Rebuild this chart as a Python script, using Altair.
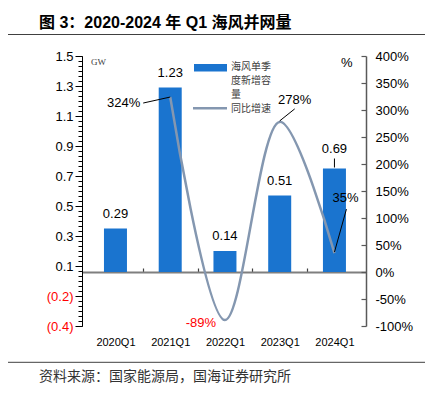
import altair as alt
import pandas as pd

# ---- data ----
quarters = ["2020Q1", "2021Q1", "2022Q1", "2023Q1", "2024Q1"]
capacity_gw = [0.29, 1.23, 0.14, 0.51, 0.69]
yoy_pct = [None, 324, -89, 278, 35]
left_tick_labels = ["(0.4)", "(0.2)", "0.1", "0.3", "0.5", "0.7", "0.9", "1.1", "1.3", "1.5"]
right_tick_values = [-100, -50, 0, 50, 100, 150, 200, 250, 300, 350, 400]
legend_bar_lines = ["海风单季", "度新增容", "量"]
legend_line_text = "同比增速"
title_text = "图 3：2020-2024 年 Q1 海风并网量"
source_text = "资料来源：国家能源局，国海证券研究所"

df = pd.DataFrame({"idx": list(range(len(quarters))), "quarter": quarters,
                   "gw": capacity_gw, "pct": yoy_pct})

BLUE = "#1a74cf"
LINE = "#8497b0"
LAT = "Liberation Sans"
CJK = "Noto Sans CJK SC"
W, H = 284, 270

L_MIN, L_MAX = -0.36, 1.44
major_vals = [round(L_MIN + 0.2 * k, 4) for k in range(len(left_tick_labels))]
minor_vals = [round(L_MIN + 0.2 / 6 * j, 5) for j in range(6 * (len(left_tick_labels) - 1) + 1)]
lab_arr = "[" + ",".join("'%s'" % s for s in left_tick_labels) + "]"
q_arr = "[" + ",".join("'%s'" % s for s in quarters) + "]"

xs = alt.Scale(domain=[-0.52, 4.485], nice=False, zero=False)
ls = alt.Scale(domain=[L_MIN, L_MAX], nice=False, zero=False)
rs = alt.Scale(domain=[-100, 400], nice=False, zero=False)


def X(axis=None):
    return alt.X("idx:Q", scale=xs, axis=axis)


def YL(axis=None):
    return alt.Y("gw:Q", scale=ls, axis=axis)


def YR(axis=None):
    return alt.Y("pct:Q", scale=rs, axis=axis)


base = alt.Chart(df)
valid = base.transform_filter("isValid(datum.pct)")

bars = base.mark_bar(width=23, color=BLUE).encode(
    x=X(alt.Axis(orient="bottom", values=[0, 1, 2, 3, 4],
                 labelExpr=q_arr + "[round(datum.value)]",
                 ticks=False, domain=False, labelFont=LAT, labelFontSize=11,
                 labelColor="#000", labelPadding=10, grid=False, title=None)),
    y=YL(alt.Axis(orient="left", values=major_vals,
                  labelExpr=lab_arr + "[round((datum.value - (%s)) / 0.2)]" % L_MIN,
                  labelColor={"condition": {"test": "datum.value < 0", "value": "#ff0000"},
                              "value": "#000"},
                  labelFont=LAT, labelFontSize=13, labelPadding=2,
                  tickSize=7, tickColor="#000", domainColor="#000",
                  grid=False, title=None)),
)

minor_axis = base.mark_point(opacity=0).encode(
    x=X(),
    y=YL(alt.Axis(orient="left", values=minor_vals, tickSize=4, labels=False,
                  domain=False, tickColor="#000", grid=False, title=None)),
)

zero_axis = base.mark_point(opacity=0).encode(
    x=X(alt.Axis(orient="top", offset=-H * (L_MAX / (L_MAX - L_MIN)),
                 values=[0.5, 1.5, 2.5, 3.5], tickSize=4, labels=False,
                 domainColor="#7f7f7f", domainWidth=2, tickColor="#404040",
                 tickWidth=1.2, grid=False, title=None)),
    y=YL(),
)

line = valid.mark_line(color=LINE, strokeWidth=2.5, interpolate="catmull-rom").encode(
    x=X(),
    y=YR(alt.Axis(orient="right", values=right_tick_values,
                  labelExpr="datum.value + '%'", ticks=False, domain=False,
                  labelPadding=9, labelFont=LAT, labelFontSize=13,
                  labelColor="#000", grid=False, title=None)),
)

right_ticks = valid.mark_point(opacity=0).encode(
    x=X(),
    y=YR(alt.Axis(orient="left", offset=-W, values=right_tick_values, tickSize=5,
                  labels=False, domainColor="#595959", tickColor="#595959",
                  domainWidth=1.5, tickWidth=1.2, grid=False, title=None)),
)


def pct_label(q, dx, dy, align="center", color="#000"):
    return (valid.transform_filter("datum.quarter == '%s'" % q)
            .transform_calculate(lab="toString(datum.pct) + '%'")
            .mark_text(dx=dx, dy=dy, align=align, baseline="middle", font=LAT,
                       fontSize=13, color=color)
            .encode(x=X(), y=YR(), text="lab:N"))


def pct_leader(q, x1, y1, x2, y2):
    return (valid.transform_filter("datum.quarter == '%s'" % q)
            .mark_rule(color="#000", strokeWidth=1, xOffset=x1, yOffset=y1,
                       x2Offset=x2, y2Offset=y2)
            .encode(x=X(), x2="idx:Q", y=YR(), y2="pct:Q"))


line_labels = [
    pct_leader("2021Q1", 0, 0, -27, 6), pct_label("2021Q1", -30, 6, "right"),
    pct_label("2022Q1", -24, 3, "center", "#ff0000"),
    pct_leader("2023Q1", 0, -1, 15, -13), pct_label("2023Q1", 15, -22),
    pct_leader("2024Q1", 0, -1, 12, -44), pct_label("2024Q1", 11, -55),
]

bar_labels = base.transform_filter("datum.quarter != '2024Q1'").mark_text(
    dy=-15, baseline="middle", font=LAT, fontSize=13, color="#000"
).encode(x=X(), y=YL(), text=alt.Text("gw:Q", format=".2f"))

bar_label_last = base.transform_filter("datum.quarter == '2024Q1'").mark_text(
    dy=-20, baseline="middle", font=LAT, fontSize=13, color="#000"
).encode(x=X(), y=YL(), text=alt.Text("gw:Q", format=".2f"))

bar_leader_last = base.transform_filter("datum.quarter == '2024Q1'").mark_rule(
    color="#000", strokeWidth=1, yOffset=-1, y2Offset=-10
).encode(x=X(), y=YL(), y2="gw:Q")

# ---- decorations (title, rules, legend, units, source) ----
one = alt.Chart(pd.DataFrame({"a": [0]}))
deco = [
    one.mark_text(text=title_text, align="left", baseline="middle",
                  font=LAT + ", " + CJK, fontSize=16, fontWeight="bold", color="#000"
                  ).encode(x=alt.value(-43), y=alt.value(-33.5)),
    one.mark_rule(color="#404040", strokeWidth=1).encode(
        x=alt.value(-90), x2=alt.value(360), y=alt.value(-21.5)),
    one.mark_rule(color="#404040", strokeWidth=1).encode(
        x=alt.value(-90), x2=alt.value(360), y=alt.value(306.3)),
    one.mark_text(text=source_text, align="left", baseline="middle", font=CJK,
                  fontSize=14, color="#333").encode(x=alt.value(-43), y=alt.value(320.7)),
    one.mark_rect(color=BLUE).encode(x=alt.value(112), x2=alt.value(145),
                                     y=alt.value(8), y2=alt.value(15.5)),
    one.mark_rule(color=LINE, strokeWidth=2.5).encode(
        x=alt.value(111), x2=alt.value(145), y=alt.value(52.3)),
    one.mark_text(text=legend_line_text, align="left", baseline="middle", font=CJK,
                  fontSize=10, color="#404040").encode(x=alt.value(149), y=alt.value(52.6)),
    one.mark_text(text="GW", align="left", baseline="middle", font="Liberation Serif",
                  fontSize=9, color="#404040").encode(x=alt.value(9), y=alt.value(5.5)),
    one.mark_text(text="%", align="center", baseline="middle", font=LAT,
                  fontSize=13, color="#000").encode(x=alt.value(264.7), y=alt.value(7)),
]
for i, t in enumerate(legend_bar_lines):
    deco.append(one.mark_text(text=t, align="left", baseline="middle", font=CJK,
                              fontSize=10, color="#404040")
                .encode(x=alt.value(149), y=alt.value(11.3 + 13.8 * i)))

chart = alt.layer(
    bars, minor_axis, zero_axis, line, right_ticks, *line_labels,
    bar_labels, bar_label_last, bar_leader_last, *deco
).resolve_scale(y="independent").resolve_axis(x="independent", y="independent").properties(
    width=W, height=H,
    padding={"left": 74, "top": 48, "right": 59, "bottom": 59},
    autosize=alt.AutoSizeParams(type="none"),
).configure_view(stroke=None).configure_axis(grid=False)

chart.save("out.html", embed_options={"renderer": "svg", "actions": False})
